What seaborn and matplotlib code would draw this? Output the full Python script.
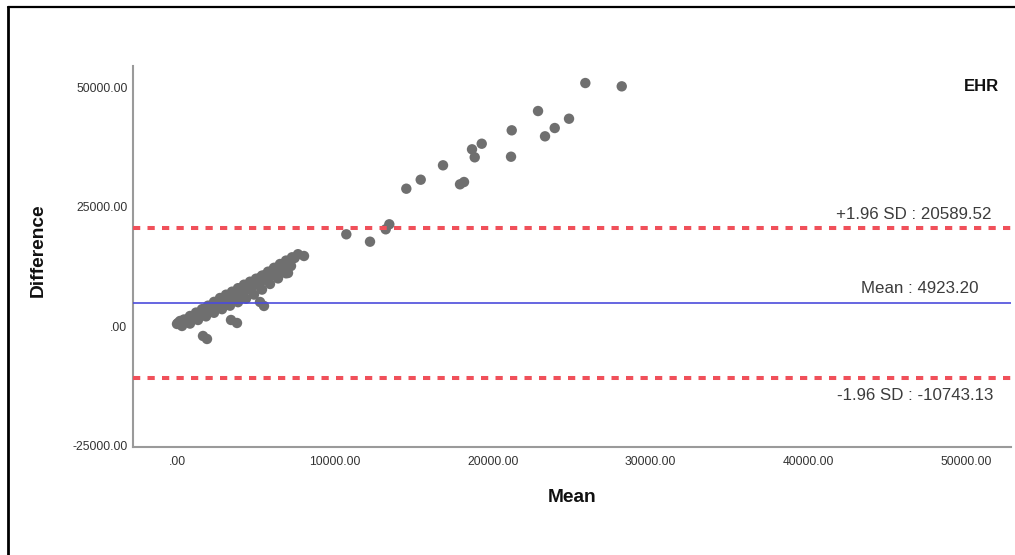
import matplotlib
matplotlib.use("Agg")
import matplotlib.pyplot as plt
from matplotlib.lines import Line2D
import numpy as np
import pandas as pd
import seaborn as sns

# Bland-Altman data: mean of the two measurements and their difference
low_mean = [63, 444, 824, 1204, 1584, 1964, 2345, 2725, 3105, 3485, 3865, 4245,
            4626, 5006, 5386, 5766, 6146, 6527, 6907, 7287, 7667, 8048,
            317, 824, 1331, 1838, 2345, 2852, 3359, 3866, 4373, 4880, 5386,
            5893, 6400, 6907,
            1077, 1584, 2091, 2598, 3105, 3612, 4119, 4626, 5133, 5640, 6147,
            6653, 7160,
            700, 1350, 1850, 2450, 2950, 3350, 3750, 4400, 4800, 5250, 5550,
            6000, 6400, 6800, 7450,
            1200, 1700, 2300, 2800, 3300, 3700, 4300, 4750, 5300, 5800, 6300,
            1648, 1901, 3422, 3802, 5260, 5513, 7034, 7224, 0, 190]
low_diff = [690, 1422, 2155, 2866, 3577, 4309, 5104, 5920, 6610, 7237, 7970, 8702,
            9329, 9957, 10605, 11421, 12237, 13033, 13744, 14434, 15082, 14706,
            63, 565, 1317, 2071, 2824, 3577, 4309, 5042, 5773, 6631, 7677,
            8848, 10020, 11086,
            1798, 2552, 3409, 4330, 5188, 6066, 6903, 7718, 8639, 9706, 10836,
            11881, 13346,
            1480, 2720, 3660, 4800, 5750, 6510, 7270, 8500, 9260, 10120, 10690,
            11540, 12300, 13060, 14290,
            1650, 2600, 3720, 4670, 5600, 6360, 7470, 8310, 9340, 10280, 11210,
            -2029, -2657, 1318, 690, 5084, 4247, 11150, 12615, 481, 1109]

high_mean = [10729, 12230, 13225, 13453, 14531, 15443, 16856, 17934, 18187, 18694,
             18865, 19309, 21210, 21166, 22877, 23320, 23935, 24841, 25874, 28181]
high_diff = [19245, 17697, 20291, 21337, 28785, 30667, 33679, 29704, 30186, 37025,
             35352, 38198, 41000, 35478, 45038, 39745, 41482, 43428, 50895, 50204]

mean_diff = 4923.20
upper_loa = 20589.52
lower_loa = -10743.13

x_ticks = [0, 10000, 20000, 30000, 40000, 50000]
x_tick_labels = [".00", "10000.00", "20000.00", "30000.00", "40000.00", "50000.00"]
y_ticks = [-25000, 0, 25000, 50000]
y_tick_labels = ["-25000.00", ".00", "25000.00", "50000.00"]

df = pd.DataFrame({
    "Mean": low_mean + high_mean,
    "Difference": low_diff + high_diff,
})

sns.set_style("white")
plt.rcParams["font.family"] = ["Liberation Sans", "DejaVu Sans"]

fig = plt.figure(figsize=(10.15, 5.55), dpi=100)
ax = fig.add_axes([0.131, 0.1951, 0.8648, 0.6859])

sns.scatterplot(data=df, x="Mean", y="Difference", ax=ax, color="#6f6f6f",
                s=56, edgecolor="none", linewidth=0, zorder=2)

red = "#f0505a"
ax.axhline(upper_loa, color=red, lw=2.9, linestyle=(0, (1.8, 1.8)), zorder=3)
ax.axhline(lower_loa, color=red, lw=2.9, linestyle=(0, (1.8, 1.8)), zorder=3)
ax.axhline(mean_diff, color="#4b4bdc", lw=1.2, zorder=3)

label_kw = dict(xycoords=("axes fraction", "data"), textcoords="offset points",
                ha="right", va="center", fontsize=12.2, color="#3c3c3c")
ax.annotate(f"+1.96 SD : {upper_loa:.2f}", xy=(0.978, upper_loa),
            xytext=(0, 9.5), **label_kw)
ax.annotate(f"Mean : {mean_diff:.2f}", xy=(0.963, mean_diff),
            xytext=(0, 10), **label_kw)
ax.annotate(f"-1.96 SD : {lower_loa:.2f}", xy=(0.980, lower_loa),
            xytext=(0, -13), **label_kw)

ax.text(0.987, 0.945, "EHR", transform=ax.transAxes, ha="right", va="center",
        fontsize=12, fontweight="bold", color="#111111")

ax.set_xlim(-2790, 52830)
ax.set_ylim(-25200, 54450)
ax.set_xticks(x_ticks)
ax.set_xticklabels(x_tick_labels)
ax.set_yticks(y_ticks)
ax.set_yticklabels(y_tick_labels)
ax.tick_params(axis="both", length=0, labelsize=8.7, labelcolor="#333333")
ax.tick_params(axis="x", pad=7)
ax.tick_params(axis="y", pad=4)

ax.set_xlabel("Mean", fontsize=13.8, fontweight="bold", color="#111111")
ax.set_ylabel("Difference", fontsize=13.8, fontweight="bold", color="#111111")
ax.xaxis.set_label_coords(0.50, -0.111)
ax.yaxis.set_label_coords(-0.098, 0.517)

for side in ("top", "right"):
    ax.spines[side].set_visible(False)
for side in ("left", "bottom"):
    ax.spines[side].set_color("#9a9a9a")
    ax.spines[side].set_linewidth(1.5)

# outer frame along the top and left edges
fig.add_artist(Line2D([7.5 / 1015, 1.0], [1 - 6.5 / 555, 1 - 6.5 / 555],
                      transform=fig.transFigure, color="black", lw=1.6))
fig.add_artist(Line2D([7.7 / 1015, 7.7 / 1015], [0.0, 1 - 6.5 / 555],
                      transform=fig.transFigure, color="black", lw=2.0))

fig.savefig("out.png", dpi=100)
